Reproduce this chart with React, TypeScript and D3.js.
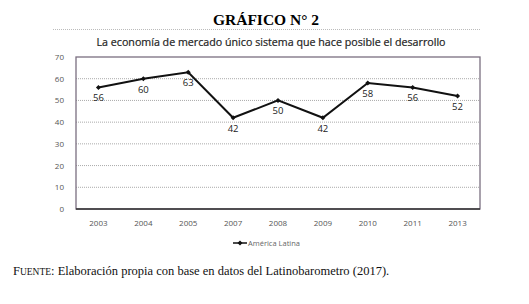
import React from "react";
import * as d3 from "d3";

const years = ["2003", "2004", "2005", "2007", "2008", "2009", "2010", "2011", "2013"];
const values = [56, 60, 63, 42, 50, 42, 58, 56, 52];
const yTicks = [0, 10, 20, 30, 40, 50, 60, 70];
const seriesName = "América Latina";
const title = "GRÁFICO N° 2";
const subtitle = "La economía de mercado único sistema que hace posible el desarrollo";

export default function App() {
  const W = 529, H = 304;
  const left = 76, right = 480, top = 57, bottom = 209;
  const x = d3.scaleBand().domain(years).range([left, right]);
  const y = d3.scaleLinear().domain([0, 70]).range([bottom, top]);
  const cx = (d: string) => (x(d) as number) + x.bandwidth() / 2;
  const line = d3.line<number>().x((_, i) => cx(years[i])).y((v) => y(v));
  const sans = "'Open Sans', 'Liberation Sans', sans-serif";
  return (
    <svg width={W} height={H} style={{ position: "absolute", left: 0, top: 0, background: "#fff" }}>
      <text x={266} y={25} textAnchor="middle" fontFamily="'Liberation Serif', serif" fontWeight="bold" fontSize={15.5}>{title}</text>
      <line x1={53} x2={480} y1={29.5} y2={29.5} stroke="#bbb" strokeDasharray="1,1" />
      <text x={271} y={46} textAnchor="middle" fontFamily={sans} fontSize={10.7} fill="#222" stroke="#222" strokeWidth={0.2}>{subtitle}</text>
      {yTicks.filter((t) => t > 0 && t < 70).map((t) => (
        <line key={t} x1={left} x2={right} y1={y(t)} y2={y(t)} stroke="#aaa" strokeDasharray="1,1" />
      ))}
      <rect x={left} y={top} width={right - left} height={bottom - top} fill="none" stroke="#7a6f80" strokeWidth={1.3} />
      <line x1={left} x2={right} y1={bottom} y2={bottom} stroke="#333" strokeWidth={1.3} />
      {yTicks.map((t) => (
        <text key={t} x={64} y={y(t) + 3} textAnchor="end" fontFamily={sans} fontSize={8} fill="#555">{t}</text>
      ))}
      {years.map((yr) => (
        <text key={yr} x={cx(yr)} y={226} textAnchor="middle" fontFamily={sans} fontSize={8} fill="#555">{yr}</text>
      ))}
      <path d={line(values) as string} fill="none" stroke="#111" strokeWidth={2} />
      {values.map((v, i) => (
        <g key={i}>
          <path d={`M${cx(years[i])},${y(v) - 2.5}l2.5,2.5l-2.5,2.5l-2.5,-2.5z`} fill="#111" />
          <text x={cx(years[i])} y={y(v) + 14} textAnchor="middle" fontFamily={sans} fontSize={9.5} fill="#222">{v}</text>
        </g>
      ))}
      <line x1={233} x2={247} y1={243} y2={243} stroke="#111" strokeWidth={1.5} />
      <path d="M240,240.5l2.5,2.5l-2.5,2.5l-2.5,-2.5z" fill="#111" />
      <text x={248} y={246} fontFamily={sans} fontSize={7.5} fill="#666">{seriesName}</text>
      <text x={13} y={275} fontFamily="'Liberation Serif', serif" fontSize={12.5} fill="#111">
        <tspan fontSize={12.5}>F</tspan><tspan fontSize={9.5}>UENTE</tspan>: Elaboración propia con base en datos del Latinobarometro (2017).
      </text>
    </svg>
  );
}
